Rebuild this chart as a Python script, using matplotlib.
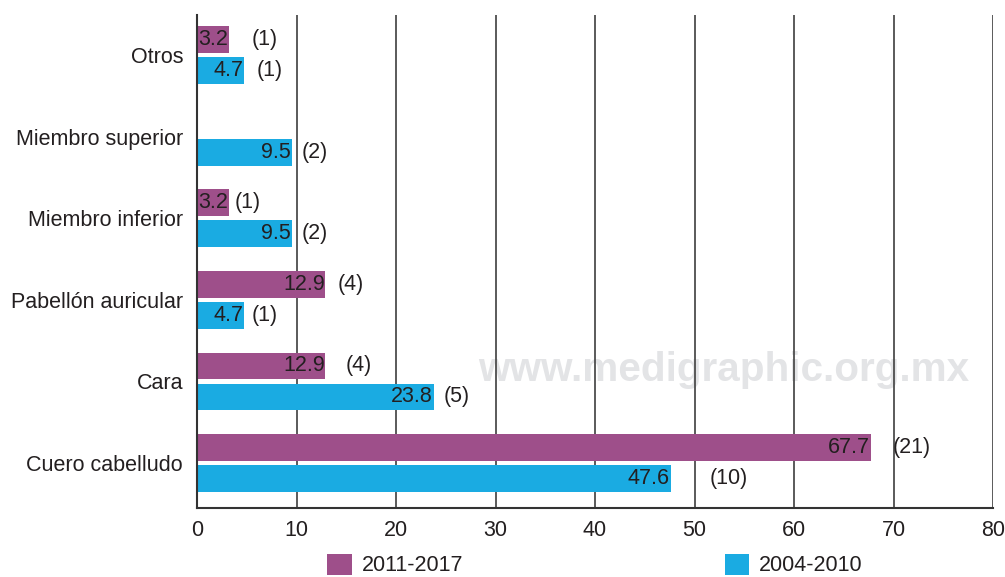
import numpy as np
import matplotlib
matplotlib.use("Agg")
import matplotlib.pyplot as plt
from matplotlib.patches import Patch

categories = ["Otros", "Miembro superior", "Miembro inferior",
              "Pabellón auricular", "Cara", "Cuero cabelludo"]
series_names = ["2011-2017", "2004-2010"]
pct_2011_2017 = [3.2, np.nan, 3.2, 12.9, 12.9, 67.7]
n_2011_2017 = [1, None, 1, 4, 4, 21]
pct_2004_2010 = [4.7, 9.5, 9.5, 4.7, 23.8, 47.6]
n_2004_2010 = [1, 2, 2, 1, 5, 10]
x_ticks = [0, 10, 20, 30, 40, 50, 60, 70, 80]

# gaps (in pixels) between bar end and count label, as in the reference
gap_2011 = [23, 0, 6, 12, 20, 22]
gap_2004 = [13, 10, 10, 8, 10, 39]

PURPLE = "#9e4f8a"
BLUE = "#1aabe2"
TXT = "#231f20"

FONT = "Liberation Sans"
plt.rcParams["font.family"] = [FONT, "DejaVu Sans"]

fig = plt.figure(figsize=(10.05, 5.77), dpi=100)
ax = fig.add_axes([197/1005, 1-508/577, (993-197)/1005, (508-15)/577])

y = np.arange(len(categories))
off = 0.19
h = 0.33
px2pt = 0.72

ax.barh(y - off, pct_2011_2017, height=h, color=PURPLE, zorder=2)
ax.barh(y + off, pct_2004_2010, height=h, color=BLUE, zorder=2)

fs = 15.5
for i in range(len(categories)):
    for vals, ns, gaps, yy in ((pct_2011_2017, n_2011_2017, gap_2011, y[i]-off),
                               (pct_2004_2010, n_2004_2010, gap_2004, y[i]+off)):
        v = vals[i]
        if v is None or np.isnan(v):
            continue
        ax.annotate(f"{v:.1f}", (v, yy), xytext=(-0.5, 0), textcoords="offset points",
                    ha="right", va="center", fontsize=fs, color=TXT, zorder=3)
        ax.annotate(f"({ns[i]})", (v, yy), xytext=(gaps[i]*px2pt, 0),
                    textcoords="offset points", ha="left", va="center",
                    fontsize=fs, color=TXT, zorder=3)

ax.set_xlim(0, 80)
ax.set_ylim(5.55, -0.49)
ax.set_xticks(x_ticks)
ax.set_xticklabels([str(t) for t in x_ticks])
ax.set_yticks(y)
ax.set_yticklabels(categories)
ax.tick_params(axis="both", length=0, labelsize=fs, colors=TXT)
ax.tick_params(axis="x", pad=9)
ax.tick_params(axis="y", pad=10)
ax.xaxis.grid(True, color="#4d4d4d", linewidth=1.3)
ax.set_axisbelow(True)
for s in ("top", "right"):
    ax.spines[s].set_visible(False)
for s in ("left", "bottom"):
    ax.spines[s].set_color("#333333")
    ax.spines[s].set_linewidth(1.5)

ax.text(724/1005, 1-381/577, "www.medigraphic.org.mx", transform=fig.transFigure,
        ha="center", va="baseline", fontsize=29.2,
        fontweight="bold", color="#e3e4e6", family=FONT, zorder=0.2)

handles = [Patch(facecolor=PURPLE), Patch(facecolor=BLUE)]
fig.legend(handles, series_names, loc="center", bbox_to_anchor=(595/1005, 1-565/577),
           ncol=2, frameon=False, fontsize=fs, handlelength=1.15, handleheight=1.15,
           handletextpad=0.45, columnspacing=12.15, borderpad=0, labelcolor=TXT)

fig.savefig("out.png", dpi=100)
